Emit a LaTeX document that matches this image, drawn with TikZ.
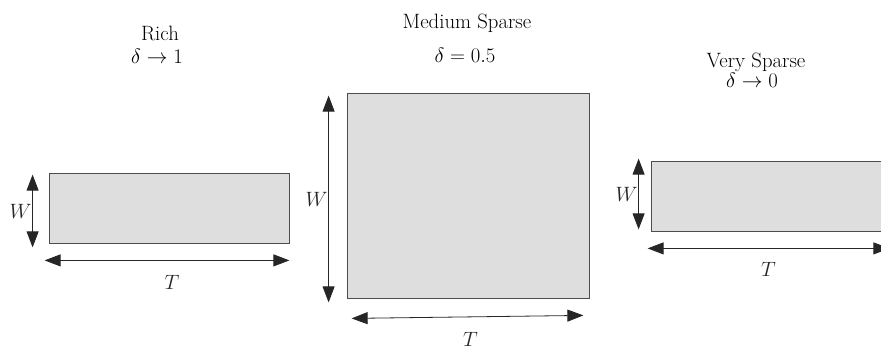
\documentclass[tikz,border=0pt]{standalone}
\usepackage{amsmath}
\usepackage{tikz}
\usetikzlibrary{arrows.meta, calc}

\begin{document}
\begin{tikzpicture}[
        x=1pt, y=-1pt,
        font=\huge,
        every node/.style={align=center},
        block/.style={rectangle, draw=black!70, fill=black!13, line width=0.8pt,
                      inner sep=0pt},
        dimarrow/.style={{Triangle[length=16pt, width=12pt]}-{Triangle[length=16pt, width=12pt]},
                         line width=0.8pt, black!85},
        dimlbl/.style={inner sep=0.5pt},
        title/.style={inner sep=0pt, anchor=base}
    ]
        % Canvas, right block is cut off at the edge
        \clip (0,0) rectangle (881,347);

        % Blocks
        \node[block, minimum width=240pt, minimum height=70pt] (rich) at (169,208) {};
        \node[block, minimum width=242pt, minimum height=205pt] (medium) at (468,195.5) {};
        \node[block, minimum width=240pt, minimum height=70pt] (sparse) at (771,196) {};

        % Titles
        \node[title] (richname) at (160,41) {Rich};
        \node[title] (richdelta) at (157,64) {$\delta \to 1$};
        \node[title] (mediumname) at (467,29) {Medium Sparse};
        \node[title] (mediumdelta) at (465,63) {$\delta = 0.5$};
        \node[title] (sparsename) at (756,68) {Very Sparse};
        \node[title] (sparsedelta) at (752,88) {$\delta \to 0$};

        % Dimension arrows: rich
        \coordinate (richWa) at ($(rich.north west)+(-16,2)$);
        \coordinate (richWb) at ($(rich.south west)+(-16,4)$);
        \draw[dimarrow] (richWa) -- node[dimlbl, left] {$W$} (richWb);
        \coordinate (richTa) at ($(rich.south west)+(-4,17)$);
        \coordinate (richTb) at ($(rich.south east)+(0,17)$);
        \draw[dimarrow] (richTa) -- node[dimlbl, below=15pt, xshift=5pt, inner sep=0pt] {$T$} (richTb);

        % Dimension arrows: medium
        \coordinate (mediumWa) at ($(medium.north west)+(-18,3)$);
        \coordinate (mediumWb) at ($(medium.south west)+(-18,4)$);
        \draw[dimarrow] (mediumWa) -- node[dimlbl, left] {$W$} (mediumWb);
        \coordinate (mediumTa) at ($(medium.south west)+(5,20)$);
        \coordinate (mediumTb) at ($(medium.south east)+(-6,17)$);
        \draw[dimarrow] (mediumTa) -- node[dimlbl, below=15pt, xshift=3pt, inner sep=0pt] {$T$} (mediumTb);

        % Dimension arrows: sparse
        \coordinate (sparseWa) at ($(sparse.north west)+(-12,-2)$);
        \coordinate (sparseWb) at ($(sparse.south west)+(-12,-2)$);
        \draw[dimarrow] (sparseWa) -- node[dimlbl, left] {$W$} (sparseWb);
        \coordinate (sparseTa) at ($(sparse.south west)+(-3,17)$);
        \coordinate (sparseTb) at ($(sparse.south east)+(-2,17)$);
        \draw[dimarrow] (sparseTa) -- node[dimlbl, below=14pt, inner sep=0pt] {$T$} (sparseTb);
\end{tikzpicture}
\end{document}
